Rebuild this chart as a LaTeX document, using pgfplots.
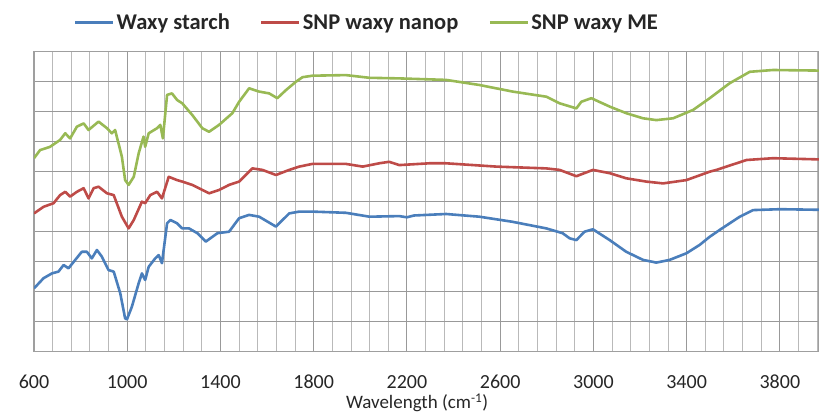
\documentclass[border=0pt]{standalone}
\usepackage{fontspec}
\setmainfont{Carlito}
\usepackage{pgfplots}
\pgfplotsset{compat=1.18}
\definecolor{cblue}{HTML}{4A7EBB}
\definecolor{cred}{HTML}{BE4B48}
\definecolor{cgreen}{HTML}{98B954}
\begin{document}
\begin{tikzpicture}
\begin{axis}[
  at={(34pt,60.3pt)}, anchor=south west,
  width=785pt, height=300pt, scale only axis,
  xmin=600, xmax=3968, ymin=0, ymax=10,
  xtick={600,1000,...,3800},
  minor xtick={680,760,...,3960},
  ytick={0,1,...,10},
  yticklabels={},
  major tick length=0pt, minor tick length=0pt,
  grid=both,
  major grid style={gray!80, line width=1.1pt},
  minor grid style={gray!55, line width=0.9pt},
  axis line style={gray!75, line width=1.1pt},
  /pgf/number format/assume math mode=true,
  /pgf/number format/set thousands separator={},
  xticklabel style={font=\fontsize{20}{24}\selectfont, anchor=center, yshift=-30pt, text=black!85},
  xlabel={Wavelength (cm\textsuperscript{-1})},
  xlabel style={font=\fontsize{19}{22}\selectfont, at={(axis description cs:0.488,0)}, anchor=center, yshift=-51pt, text=black!85, inner sep=0pt},
  legend columns=3,
  legend style={at={(axis description cs:0.424,1.097)}, anchor=center, draw=none, fill=none,
    font=\bfseries\fontsize{22.5}{26}\selectfont, text=black!85,
    nodes={inner xsep=2pt},
    /tikz/every even column/.append style={column sep=28pt}},
  legend image code/.code={\draw[#1, line width=3pt] (0pt,0pt) -- (38pt,0pt);},
  every axis plot/.append style={line width=2.6pt, line join=round},
]
\addplot[cblue] coordinates {
(600,2.11)(641,2.45)(677,2.61)(705,2.67)(727,2.89)(748,2.78)(777,3.06)(805,3.33)(827,3.33)(848,3.11)(870,3.39)(891,3.17)(920,2.72)(942,2.67)(970,1.95)(991,1.11)(999,1.08)(1020,1.50)(1049,2.28)(1063,2.61)(1077,2.39)(1092,2.83)(1120,3.11)(1135,3.22)(1149,2.95)(1171,4.28)(1185,4.39)(1214,4.28)(1236,4.11)(1265,4.11)(1301,3.95)(1337,3.67)(1387,3.95)(1437,4.00)(1480,4.45)(1523,4.56)(1566,4.50)(1638,4.17)(1695,4.61)(1738,4.67)(1794,4.67)(1938,4.63)(2039,4.50)(2167,4.52)(2200,4.48)(2230,4.54)(2368,4.59)(2511,4.50)(2653,4.33)(2798,4.11)(2868,3.95)(2898,3.78)(2927,3.72)(2962,4.00)(2998,4.08)(3070,3.72)(3141,3.33)(3213,3.06)(3270,2.97)(3327,3.06)(3399,3.28)(3456,3.56)(3499,3.83)(3542,4.06)(3628,4.50)(3685,4.72)(3800,4.75)(3968,4.73)
};
\addlegendentry{Waxy starch}
\addplot[cred] coordinates {
(600,4.61)(641,4.83)(684,4.95)(712,5.22)(734,5.33)(755,5.17)(784,5.33)(813,5.45)(834,5.11)(856,5.45)(877,5.50)(913,5.28)(942,5.22)(977,4.50)(1006,4.11)(1028,4.39)(1063,5.00)(1077,4.95)(1099,5.22)(1128,5.33)(1149,5.11)(1178,5.83)(1214,5.72)(1236,5.67)(1279,5.56)(1351,5.28)(1394,5.39)(1437,5.56)(1480,5.67)(1537,6.11)(1580,6.06)(1638,5.89)(1695,6.06)(1738,6.17)(1795,6.26)(1938,6.26)(2010,6.17)(2081,6.28)(2124,6.33)(2167,6.22)(2296,6.28)(2368,6.28)(2583,6.17)(2798,6.11)(2855,6.06)(2927,5.85)(2998,6.06)(3070,5.95)(3141,5.78)(3227,5.67)(3299,5.61)(3399,5.72)(3499,6.00)(3528,6.06)(3657,6.39)(3771,6.45)(3968,6.41)
};
\addlegendentry{SNP waxy nanop}
\addplot[cgreen] coordinates {
(600,6.45)(626,6.72)(669,6.83)(712,7.06)(734,7.28)(755,7.11)(784,7.50)(813,7.61)(834,7.39)(877,7.67)(913,7.45)(934,7.28)(948,7.39)(977,6.50)(991,5.72)(1006,5.56)(1028,5.83)(1049,6.61)(1070,7.17)(1077,6.83)(1092,7.28)(1128,7.45)(1142,7.56)(1153,7.11)(1171,8.56)(1192,8.61)(1214,8.39)(1236,8.28)(1279,7.89)(1322,7.45)(1351,7.33)(1394,7.56)(1451,7.95)(1480,8.33)(1523,8.78)(1566,8.67)(1609,8.61)(1644,8.45)(1681,8.72)(1724,9.00)(1752,9.15)(1795,9.20)(1938,9.22)(2039,9.13)(2167,9.11)(2368,9.06)(2511,8.89)(2654,8.67)(2798,8.50)(2855,8.28)(2927,8.11)(2948,8.33)(2991,8.45)(3070,8.17)(3141,7.95)(3213,7.78)(3270,7.72)(3342,7.78)(3428,8.06)(3499,8.45)(3585,8.95)(3671,9.33)(3771,9.39)(3968,9.37)
};
\addlegendentry{SNP waxy ME}
\end{axis}
\pgfresetboundingbox
\path[use as bounding box] (0,0) rectangle (819pt,412pt);
\end{tikzpicture}
\end{document}
